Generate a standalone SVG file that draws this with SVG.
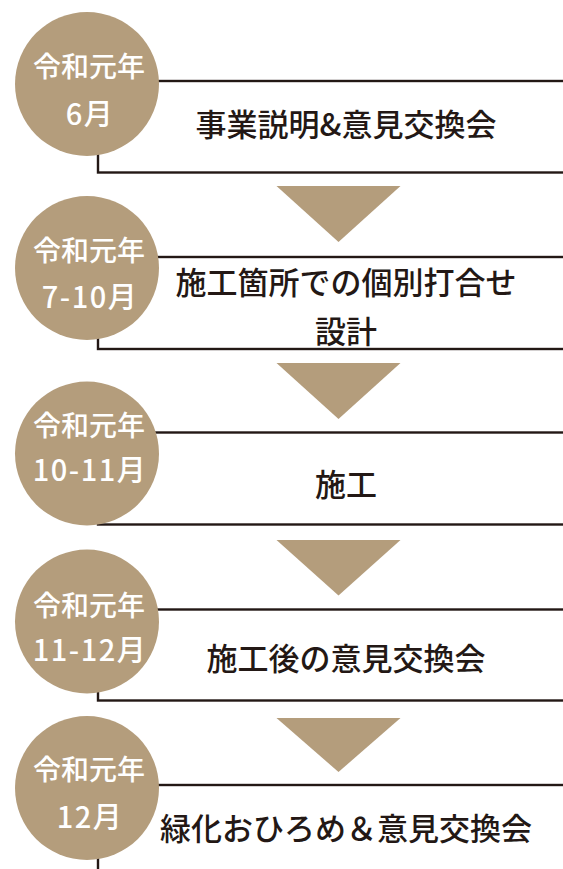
<svg xmlns="http://www.w3.org/2000/svg" width="563" height="869" viewBox="0 0 563 869">
<style>
.box{fill:none;stroke:#231815;stroke-width:2.4}
.dot{fill:#b49d7c}
.date{font-family:"Noto Sans CJK JP","Noto Sans",sans-serif;font-size:28px;font-weight:500;fill:#ffffff;text-anchor:middle}
.month{letter-spacing:1.5px;font-size:29px}
.label{font-family:"Noto Sans CJK JP","Noto Sans",sans-serif;font-size:31px;font-weight:500;fill:#231815;text-anchor:middle}
.arrow{fill:#b49d7c}
</style>
<rect width="563" height="869" fill="#ffffff"/>
<g id="connectors">
<polygon class="arrow" points="276.5,186 400.5,186 338.5,242"/>
<polygon class="arrow" points="276.5,363 400.5,363 338.5,419"/>
<polygon class="arrow" points="276.5,540 400.5,540 338.5,595.5"/>
<polygon class="arrow" points="276.5,718 400.5,718 338.5,772"/>
</g>
<g id="step1">
<rect class="box" x="98" y="81" width="480" height="91.5"/>
<circle class="dot" cx="87" cy="84" r="72"/>
<text class="date" x="89" y="77">令和元年</text>
<text class="date month" x="90" y="125">6月</text>
<text class="label" x="346" y="136">事業説明&amp;意見交換会</text>
</g>
<g id="step2">
<rect class="box" x="98" y="257" width="480" height="92"/>
<circle class="dot" cx="87" cy="268" r="72"/>
<text class="date" x="89" y="260.5">令和元年</text>
<text class="date month" x="90" y="308">7-10月</text>
<text class="label" x="346" y="294">施工箇所での個別打合せ</text>
<text class="label" x="346" y="342.5">設計</text>
</g>
<g id="step3">
<rect class="box" x="98" y="432.5" width="480" height="92"/>
<circle class="dot" cx="87" cy="453.5" r="72"/>
<text class="date" x="89" y="435.5">令和元年</text>
<text class="date month" x="90" y="481">10-11月</text>
<text class="label" x="346" y="495.5">施工</text>
</g>
<g id="step4">
<rect class="box" x="98" y="609.5" width="480" height="91"/>
<circle class="dot" cx="87" cy="621.5" r="72"/>
<text class="date" x="89" y="615.5">令和元年</text>
<text class="date month" x="90" y="661">11-12月</text>
<text class="label" x="346" y="669.5">施工後の意見交換会</text>
</g>
<g id="step5">
<rect class="box" x="98" y="785" width="480" height="200"/>
<circle class="dot" cx="87" cy="788" r="72"/>
<text class="date" x="89" y="779.5">令和元年</text>
<text class="date month" x="90" y="828">12月</text>
<text class="label" x="346" y="839.5">緑化おひろめ＆意見交換会</text>
</g>
</svg>
